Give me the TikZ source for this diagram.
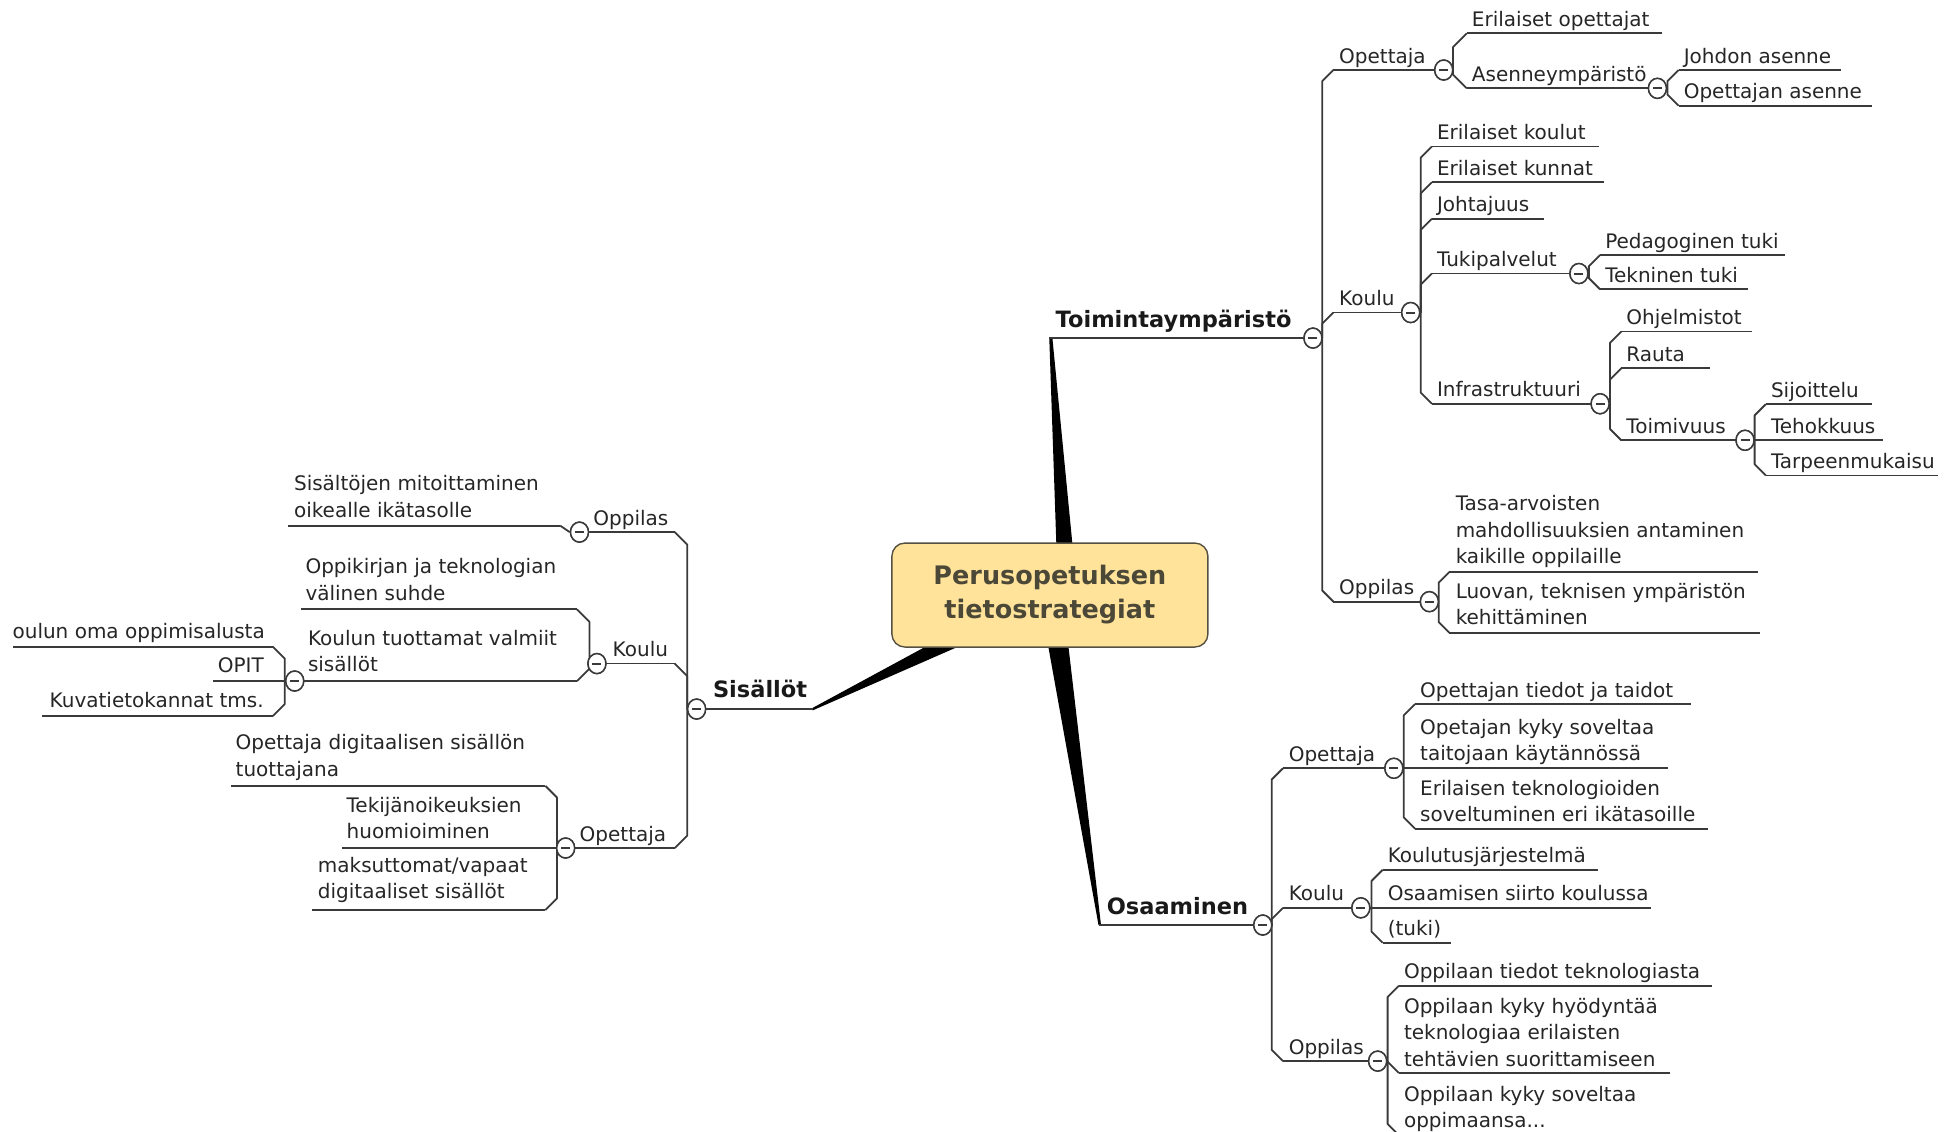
\documentclass[tikz,border=0pt]{standalone}
\usepackage{fontspec}
\setmainfont{DejaVu Sans}
\usetikzlibrary{shapes.geometric}
\definecolor{linec}{RGB}{58,58,58}
\definecolor{txtc}{RGB}{38,38,38}
\definecolor{rootfill}{RGB}{255,227,155}
\definecolor{rootdraw}{RGB}{85,80,65}
\definecolor{roottxt}{RGB}{75,72,55}
\newcommand\mlines[1]{\begin{tabular}[b]{@{}l@{}}#1\end{tabular}}
% #1 style, #2 name, #3 x at parent side, #4 x at far side, #5 y of underline, #6 text position, #7 anchor, #8 text
\newcommand\mmtopic[8][leaf]{%
  \coordinate (#2-a) at (#3,#5);
  \coordinate (#2-b) at (#4,#5);
  \draw[conn] (#2-a) -- (#2-b);
  \node[#1,anchor=#7] (#2) at (#6) {#8};
}
\begin{document}
\begin{tikzpicture}[x=1.2462pt,y=-1.2462pt,
  conn/.style={draw=linec,line width=1.8pt,line join=round},
  leaf/.style={inner sep=0pt,text=txtc,font=\fontsize{20}{26.5}\selectfont},
  mainlbl/.style={inner sep=0pt,text=black!90,font=\fontsize{22.5}{28}\selectfont\bfseries},
  tgl/.style={ellipse,draw=linec,fill=white,line width=1.5pt,minimum width=18pt,minimum height=20pt,inner sep=0pt,
    path picture={\draw[linec,line width=2pt] ([xshift=-4.5pt]path picture bounding box.center) -- ([xshift=4.5pt]path picture bounding box.center);}},
  wedge/.style={fill=black,draw=none},
  root/.style={rounded corners=13pt,draw=rootdraw,line width=1.4pt,fill=rootfill,minimum width=316pt,minimum height=104pt,text=roottxt,align=center,font=\fontsize{25.5}{34}\selectfont\bfseries}
]
\path[use as bounding box] (0,0) rectangle (1568,908);
\clip (0,0) rectangle (1568,908);

% ---------- wedges from the central topic ----------
\path[wedge] (842,271.3) -- (844.5,271.3) -- (863.8,470) -- (848.8,470) -- cycle;
\path[wedge] (836,490) -- (854,490) -- (883.5,742.3) -- (881.5,742.3) -- cycle;
\path[wedge] (652,568.1) -- (796.1,490) -- (834.9,490) -- (652,570.1) -- cycle;

% ---------- Toimintaympäristö ----------
\mmtopic[mainlbl]{TY}{1053.6}{842}{271.3}{847,263}{base west}{Toimintaympäristö}
\mmtopic{T1}{1070}{1158.5}{56.2}{1074.5,50.7}{base west}{Opettaja}
\mmtopic{T2}{1070}{1132}{250.8}{1074.5,245.3}{base west}{Koulu}
\mmtopic{T3}{1070}{1147}{482.8}{1074.5,477.3}{base west}{Oppilas}
\mmtopic{T11}{1177}{1334}{26.7}{1181,21.2}{base west}{Erilaiset opettajat}
\mmtopic{T12}{1177}{1330}{70.9}{1181,65.4}{base west}{Asenneympäristö}
\mmtopic{T121}{1347}{1477}{56.2}{1351,50.7}{base west}{Johdon asenne}
\mmtopic{T122}{1347}{1502}{84.8}{1351,79.3}{base west}{Opettajan asenne}
\mmtopic{T21}{1149}{1283}{117.5}{1153,112}{base west}{Erilaiset koulut}
\mmtopic{T22}{1149}{1287}{146.3}{1153,140.8}{base west}{Erilaiset kunnat}
\mmtopic{T23}{1149}{1239}{175.5}{1153,170}{base west}{Johtajuus}
\mmtopic{T24}{1149}{1267}{219.5}{1153,214}{base west}{Tukipalvelut}
\mmtopic{T241}{1284}{1432}{204.6}{1288,199.1}{base west}{Pedagoginen tuki}
\mmtopic{T242}{1284}{1403}{232.2}{1288,226.7}{base west}{Tekninen tuki}
\mmtopic{T25}{1149}{1284}{324}{1153,318.5}{base west}{Infrastruktuuri}
\mmtopic{T251}{1301}{1406}{266}{1305,260.5}{base west}{Ohjelmistot}
\mmtopic{T252}{1301}{1372}{295.5}{1305,290}{base west}{Rauta}
\mmtopic{T253}{1301}{1400.3}{353.3}{1305,347.8}{base west}{Toimivuus}
\mmtopic{T2531}{1417}{1502}{324.3}{1421,318.8}{base west}{Sijoittelu}
\mmtopic{T2532}{1406}{1511}{353.3}{1421,347.8}{base west}{Tehokkuus}
\mmtopic{T2533}{1417}{1555}{381.5}{1421,376}{base west}{Tarpeenmukaisu}
\mmtopic{T31}{1163}{1411}{459}{1168,452.5}{base west}{\mlines{Tasa-arvoisten\\mahdollisuuksien antaminen\\kaikille oppilaille}}
\mmtopic{T32}{1163}{1412}{507.7}{1168,501.2}{base west}{\mlines{Luovan, teknisen ympäristön\\kehittäminen}}

% ---------- Osaaminen ----------
\mmtopic[mainlbl]{OS}{1013.3}{882}{742.3}{888,734}{base west}{Osaaminen}
\mmtopic{O1}{1029.5}{1118.5}{616.5}{1034,611}{base west}{Opettaja}
\mmtopic{O2}{1029.5}{1092}{728.5}{1034,723}{base west}{Koulu}
\mmtopic{O3}{1029.5}{1105.5}{851.5}{1034,846}{base west}{Oppilas}
\mmtopic{O11}{1135.5}{1357}{565}{1139.5,559.5}{base west}{Opettajan tiedot ja taidot}
\mmtopic{O12}{1125}{1338.5}{616.5}{1139.5,610.5}{base west}{\mlines{Opetajan kyky soveltaa\\taitojaan käytännössä}}
\mmtopic{O13}{1135.5}{1370.5}{665}{1139.5,659.5}{base west}{\mlines{Erilaisen teknologioiden\\soveltuminen eri ikätasoille}}
\mmtopic{O21}{1109.5}{1282}{698}{1113.5,692.5}{base west}{Koulutusjärjestelmä}
\mmtopic{O22}{1098}{1325}{728.5}{1113.5,723}{base west}{Osaamisen siirto koulussa}
\mmtopic{O23}{1109.5}{1164.5}{756.5}{1113.5,751}{base west}{(tuki)}
\mmtopic{O31}{1122.5}{1373.5}{791}{1126.5,785.5}{base west}{Oppilaan tiedot teknologiasta}
\mmtopic{O32}{1122.5}{1340}{861}{1126.5,855.5}{base west}{\mlines{Oppilaan kyky hyödyntää\\teknologiaa erilaisten\\tehtävien suorittamiseen}}
\mmtopic{O33}{1122.5}{1335}{911}{1126.5,905}{base west}{\mlines{Oppilaan kyky soveltaa\\oppimaansa...}}

% ---------- Sisällöt ----------
\mmtopic[mainlbl]{SI}{559}{652}{569}{572,560}{base west}{Sisällöt}
\mmtopic{S1}{541.5}{465}{427}{476,421.5}{base west}{Oppilas}
\mmtopic{S2}{541.5}{479}{532.5}{491.5,527}{base west}{Koulu}
\mmtopic{S3}{541.5}{453.9}{680.5}{465,675}{base west}{Opettaja}
\mmtopic{S11}{449.5}{231}{421.8}{235.8,415}{base west}{\mlines{Sisältöjen mitoittaminen\\oikealle ikätasolle}}
\mmtopic{S21}{463}{241.3}{489}{245,481.5}{base west}{\mlines{Oppikirjan ja teknologian\\välinen suhde}}
\mmtopic{S22}{463}{236.5}{546.5}{247,539}{base west}{\mlines{Koulun tuottamat valmiit\\sisällöt}}
\mmtopic{S221}{219}{10.3}{519}{212.6,512.5}{base east}{oulun oma oppimisalusta}
\mmtopic{S222}{230}{171.3}{546.5}{211.8,540}{base east}{OPIT}
\mmtopic{S223}{219}{33.9}{574.5}{211.8,568}{base east}{Kuvatietokannat tms.}
\mmtopic{S31}{437.7}{185}{630.7}{189,623}{base west}{\mlines{Opettaja digitaalisen sisällön\\tuottajana}}
\mmtopic{S32}{447.5}{274.5}{680.5}{278,673}{base west}{\mlines{Tekijänoikeuksien\\huomioiminen}}
\mmtopic{S33}{437.7}{250.5}{730.2}{255,721}{base west}{\mlines{maksuttomat/vapaat\\digitaaliset sisällöt}}

% ---------- toggles ----------
\node[tgl] (T0) at (1053.6,271.3) {};
\node[tgl] (T1t) at (1158.5,56.2) {};
\node[tgl] (T12t) at (1330,70.9) {};
\node[tgl] (T2t) at (1132,250.8) {};
\node[tgl] (T24t) at (1267,219.5) {};
\node[tgl] (T25t) at (1284,324) {};
\node[tgl] (T253t) at (1400.3,353.3) {};
\node[tgl] (T3t) at (1147,482.8) {};
\node[tgl] (O0) at (1013.3,742.3) {};
\node[tgl] (O1t) at (1118.5,616.5) {};
\node[tgl] (O2t) at (1092,728.5) {};
\node[tgl] (O3t) at (1105.5,851.5) {};
\node[tgl] (S0) at (559,569) {};
\node[tgl] (S1t) at (465,427) {};
\node[tgl] (S2t) at (479,532.5) {};
\node[tgl] (S22t) at (236.5,546.5) {};
\node[tgl] (S3t) at (453.9,680.5) {};

% ---------- connectors (trunks with chamfers) ----------
\draw[conn] (T1-a) -- ++(-9,9) |- (T0.east);
\draw[conn] (T2-a) -- ++(-9,9) |- (T0.east);
\draw[conn] (T3-a) -- ++(-9,-9) |- (T0.east);
\draw[conn] (T11-a) -- ++(-11,11) |- (T1t.east);
\draw[conn] (T12-a) -- ++(-11,-11) |- (T1t.east);
\draw[conn] (T121-a) -- ++(-9,9) |- (T12t.east);
\draw[conn] (T122-a) -- ++(-9,-9) |- (T12t.east);
\draw[conn] (T21-a) -- ++(-9,9) |- (T2t.east);
\draw[conn] (T22-a) -- ++(-9,9) |- (T2t.east);
\draw[conn] (T23-a) -- ++(-9,9) |- (T2t.east);
\draw[conn] (T24-a) -- ++(-9,9) |- (T2t.east);
\draw[conn] (T25-a) -- ++(-9,-9) |- (T2t.east);
\draw[conn] (T241-a) -- ++(-9,9) |- (T24t.east);
\draw[conn] (T242-a) -- ++(-9,-9) |- (T24t.east);
\draw[conn] (T251-a) -- ++(-9,9) |- (T25t.east);
\draw[conn] (T252-a) -- ++(-9,9) |- (T25t.east);
\draw[conn] (T253-a) -- ++(-9,-9) |- (T25t.east);
\draw[conn] (T2531-a) -- ++(-9,9) |- (T253t.east);
\draw[conn] (T2532-a) -- (T253t.east);
\draw[conn] (T2533-a) -- ++(-9,-9) |- (T253t.east);
\draw[conn] (T31-a) -- ++(-8.5,8.5) |- (T3t.east);
\draw[conn] (T32-a) -- ++(-8.5,-8.5) |- (T3t.east);
\draw[conn] (O1-a) -- ++(-9,9) |- (O0.east);
\draw[conn] (O2-a) -- ++(-9,9) |- (O0.east);
\draw[conn] (O3-a) -- ++(-9,-9) |- (O0.east);
\draw[conn] (O11-a) -- ++(-9,9) |- (O1t.east);
\draw[conn] (O12-a) -- (O1t.east);
\draw[conn] (O13-a) -- ++(-9,-9) |- (O1t.east);
\draw[conn] (O21-a) -- ++(-9,9) |- (O2t.east);
\draw[conn] (O22-a) -- (O2t.east);
\draw[conn] (O23-a) -- ++(-9,-9) |- (O2t.east);
\draw[conn] (O31-a) -- ++(-9,9) |- (O3t.east);
\draw[conn] (O32-a) -- ++(-9,-9) |- (O3t.east);
\draw[conn] (O33-a) -- ++(-9,-9) |- (O3t.east);
\draw[conn] (S1-a) -- ++(10,10) |- (S0.west);
\draw[conn] (S2-a) -- ++(10,10) |- (S0.west);
\draw[conn] (S3-a) -- ++(10,-10) |- (S0.west);
\draw[conn] (S11-a) -- (S1t.west);
\draw[conn] (S21-a) -- ++(10,10) |- (S2t.west);
\draw[conn] (S22-a) -- ++(10,-10) |- (S2t.west);
\draw[conn] (S221-a) -- ++(9.5,9.5) |- (S22t.west);
\draw[conn] (S222-a) -- (S22t.west);
\draw[conn] (S223-a) -- ++(9.5,-9.5) |- (S22t.west);
\draw[conn] (S31-a) -- ++(9.2,9.2) |- (S3t.west);
\draw[conn] (S32-a) -- (S3t.west);
\draw[conn] (S33-a) -- ++(9.2,-9.2) |- (S3t.west);

% redraw toggles on top of the trunks
\foreach \t in {T0,T1t,T12t,T2t,T24t,T25t,T253t,T3t,O0,O1t,O2t,O3t,S0,S1t,S2t,S22t,S3t}
  \node[tgl] at (\t.center) {};

% ---------- central topic ----------
\node[root] (root) at (842.5,477.5) {Perusopetuksen\\tietostrategiat};
\end{tikzpicture}
\end{document}
